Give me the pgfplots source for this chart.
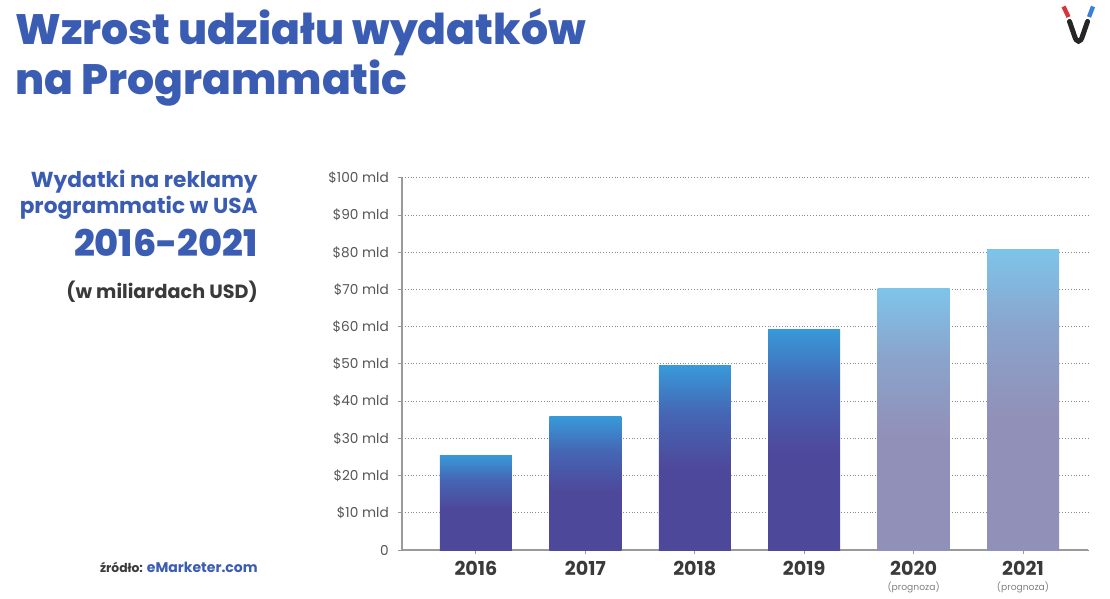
\documentclass[border=0pt]{standalone}
\usepackage{fontspec}
\setmainfont{Poppins}
\newfontfamily\heavy{Poppins}[UprightFont={* ExtraBold}, BoldFont={* ExtraBold}]
\usepackage{pgfplots}
\pgfplotsset{compat=1.18}
\definecolor{titleblue}{HTML}{3A5CB2}
\definecolor{txtgray}{HTML}{3A3A3A}
\definecolor{tickgray}{HTML}{555555}
\definecolor{axgray}{HTML}{9A9A9A}
\definecolor{gridgray}{HTML}{8A8A8A}
\definecolor{barblue}{HTML}{3899D9}
\definecolor{barmid}{HTML}{4566B4}
\definecolor{barpurple}{HTML}{4E489B}
\definecolor{fcblue}{HTML}{7EC4EA}
\definecolor{fcmid}{HTML}{8AA4CC}
\definecolor{fcpurple}{HTML}{9190B8}
\definecolor{logored}{HTML}{D8343A}
\definecolor{logoblue}{HTML}{3D7FD6}
\pgfdeclareverticalshading{darkbar}{100bp}{color(0bp)=(barpurple); color(25bp)=(barpurple); color(47bp)=(barpurple); color(62bp)=(barmid); color(75bp)=(barblue); color(100bp)=(barblue)}
\pgfdeclareverticalshading{lightbar}{100bp}{color(0bp)=(fcpurple); color(25bp)=(fcpurple); color(47bp)=(fcpurple); color(62bp)=(fcmid); color(75bp)=(fcblue); color(100bp)=(fcblue)}
\begin{document}
\begin{tikzpicture}
\path[use as bounding box] (0,0) rectangle (666pt,358.8pt);
\begin{axis}[
  at={(241.2pt,28.8pt)}, anchor=south west,
  scale only axis, width=411.6pt, height=223.2pt,
  xmin=-0.676, xmax=5.594, ymin=0, ymax=100,
  axis lines*=left,
  axis line style={axgray, line width=0.9pt},
  xtick={0,1,2,3,4,5},
  xticklabels={2016,2017,2018,2019,{2020\\[-4pt]{\mdseries\fontsize{5.5}{6}\selectfont\color{gray}(prognoza)}},{2021\\[-4pt]{\mdseries\fontsize{5.5}{6}\selectfont\color{gray}(prognoza)}}},
  ytick={0,10,...,100},
  yticklabels={0,\$10 mld,\$20 mld,\$30 mld,\$40 mld,\$50 mld,\$60 mld,\$70 mld,\$80 mld,\$90 mld,\$100 mld},
  tick align=outside,
  major tick length=2.4pt,
  tick style={axgray, line width=0.6pt},
  ymajorgrids,
  grid style={gridgray, line width=0.6pt, dash pattern=on 0.6pt off 1.1pt},
  yticklabel style={font=\fontsize{8.2}{10}\selectfont, text=tickgray, xshift=-2pt},
  xticklabel style={font=\fontsize{11.5}{13}\selectfont\bfseries, text=txtgray, align=center, anchor=north, yshift=-1pt},
  bar width=43.2pt,
  clip=false,
]
\addplot[ybar, bar shift=0pt, draw=none, shade, shading=darkbar] coordinates {(0,25.5)};
\addplot[ybar, bar shift=0pt, draw=none, shade, shading=darkbar] coordinates {(1,35.8)};
\addplot[ybar, bar shift=0pt, draw=none, shade, shading=darkbar] coordinates {(2,49.5)};
\addplot[ybar, bar shift=0pt, draw=none, shade, shading=darkbar] coordinates {(3,59.4)};
\addplot[ybar, bar shift=0pt, draw=none, shade, shading=lightbar] coordinates {(4,70.2)};
\addplot[ybar, bar shift=0pt, draw=none, shade, shading=lightbar] coordinates {(5,80.9)};
\end{axis}
\begin{scope}[x=0.6pt, y=-0.6pt, yshift=358.8pt]
  % title
  \node[anchor=base west, inner sep=0, text=titleblue, font=\fontsize{25.5}{30}\selectfont\heavy] at (15,45) {Wzrost udziału wydatków};
  \node[anchor=base west, inner sep=0, text=titleblue, font=\fontsize{25.5}{30}\selectfont\heavy] at (15,95) {na Programmatic};
  % side text
  \node[anchor=base east, inner sep=0, text=titleblue, font=\fontsize{13}{15}\selectfont\bfseries] at (258,188) {Wydatki na reklamy};
  \node[anchor=base east, inner sep=0, text=titleblue, font=\fontsize{13}{15}\selectfont\bfseries] at (258,214) {programmatic w USA};
  \node[anchor=base east, inner sep=0, text=titleblue, font=\fontsize{22}{26}\selectfont\heavy] at (258,257) {2016-2021};
  \node[anchor=base east, inner sep=0, text=txtgray, font=\fontsize{11.5}{13}\selectfont\bfseries] at (258,298) {(w miliardach USD)};
  \node[anchor=base east, inner sep=0, font=\fontsize{8.4}{10}\selectfont\bfseries] at (258,572) {\textcolor{txtgray}{\fontsize{7.4}{9}\selectfont źródło:} \textcolor{titleblue}{eMarketer.com}};
  % logo
  \draw[logored, line width=2.6pt] (1063.5,6.5) -- (1068.5,17);
  \draw[logoblue, line width=2.6pt] (1093,6.5) -- (1089,17);
  \draw[black!85, line width=3pt, line cap=round] (1069.5,21.5) -- (1074.5,36) .. controls (1076.5,43) and (1080.5,43) .. (1082.5,36) -- (1087.5,21.5);
\end{scope}
\end{tikzpicture}
\end{document}
